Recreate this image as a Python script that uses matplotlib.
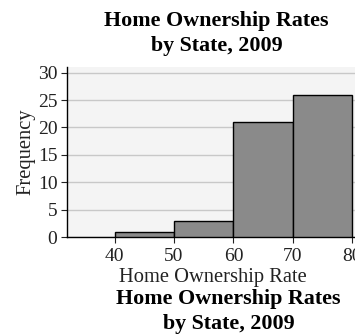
import matplotlib.pyplot as plt
import numpy as np

# histogram bins and counts
bin_edges = [40, 50, 60, 70, 80]
counts = [1, 3, 21, 26]
y_ticks = [0, 5, 10, 15, 20, 25, 30]
x_ticks = [40, 50, 60, 70, 80]
title = 'Home Ownership Rates\nby State, 2009'

plt.rcParams['font.family'] = ['Liberation Serif', 'DejaVu Serif']

fig = plt.figure(figsize=(3.55, 3.35), dpi=100)
ax = fig.add_axes([0.189, 0.2925, 0.82, 0.507])
ax.set_facecolor('#f4f4f4')

widths = np.diff(bin_edges)
ax.bar(bin_edges[:-1], counts, width=widths, align='edge',
       color='#8a8a8a', edgecolor='black', linewidth=1.0, zorder=3)

ax.set_xlim(32, 81)
ax.set_ylim(0, 31)
ax.set_xticks(x_ticks)
ax.set_yticks(y_ticks)
ax.yaxis.grid(True, color='#c8c8c8', linewidth=1.0, zorder=0)
ax.tick_params(labelsize=14, length=4, colors='#222222')
ax.tick_params(axis='x', pad=4)
ax.tick_params(axis='y', pad=3)

for s in ['top', 'right']:
    ax.spines[s].set_visible(False)
ax.spines['left'].set_linewidth(1.0)
ax.spines['bottom'].set_linewidth(1.0)

ax.set_xlabel('Home Ownership Rate', fontsize=14.8, labelpad=2, color='#222222')
ax.set_ylabel('Frequency', fontsize=14.8, labelpad=2, color='#222222')

fig.text(0.61, 0.9, title, ha='center', va='center', fontsize=15.8,
         fontweight='bold', linespacing=1.35)
fig.text(0.644, 0.071, title, ha='center', va='center', fontsize=15.8,
         fontweight='bold', linespacing=1.35)

fig.savefig('out.png', dpi=100)
